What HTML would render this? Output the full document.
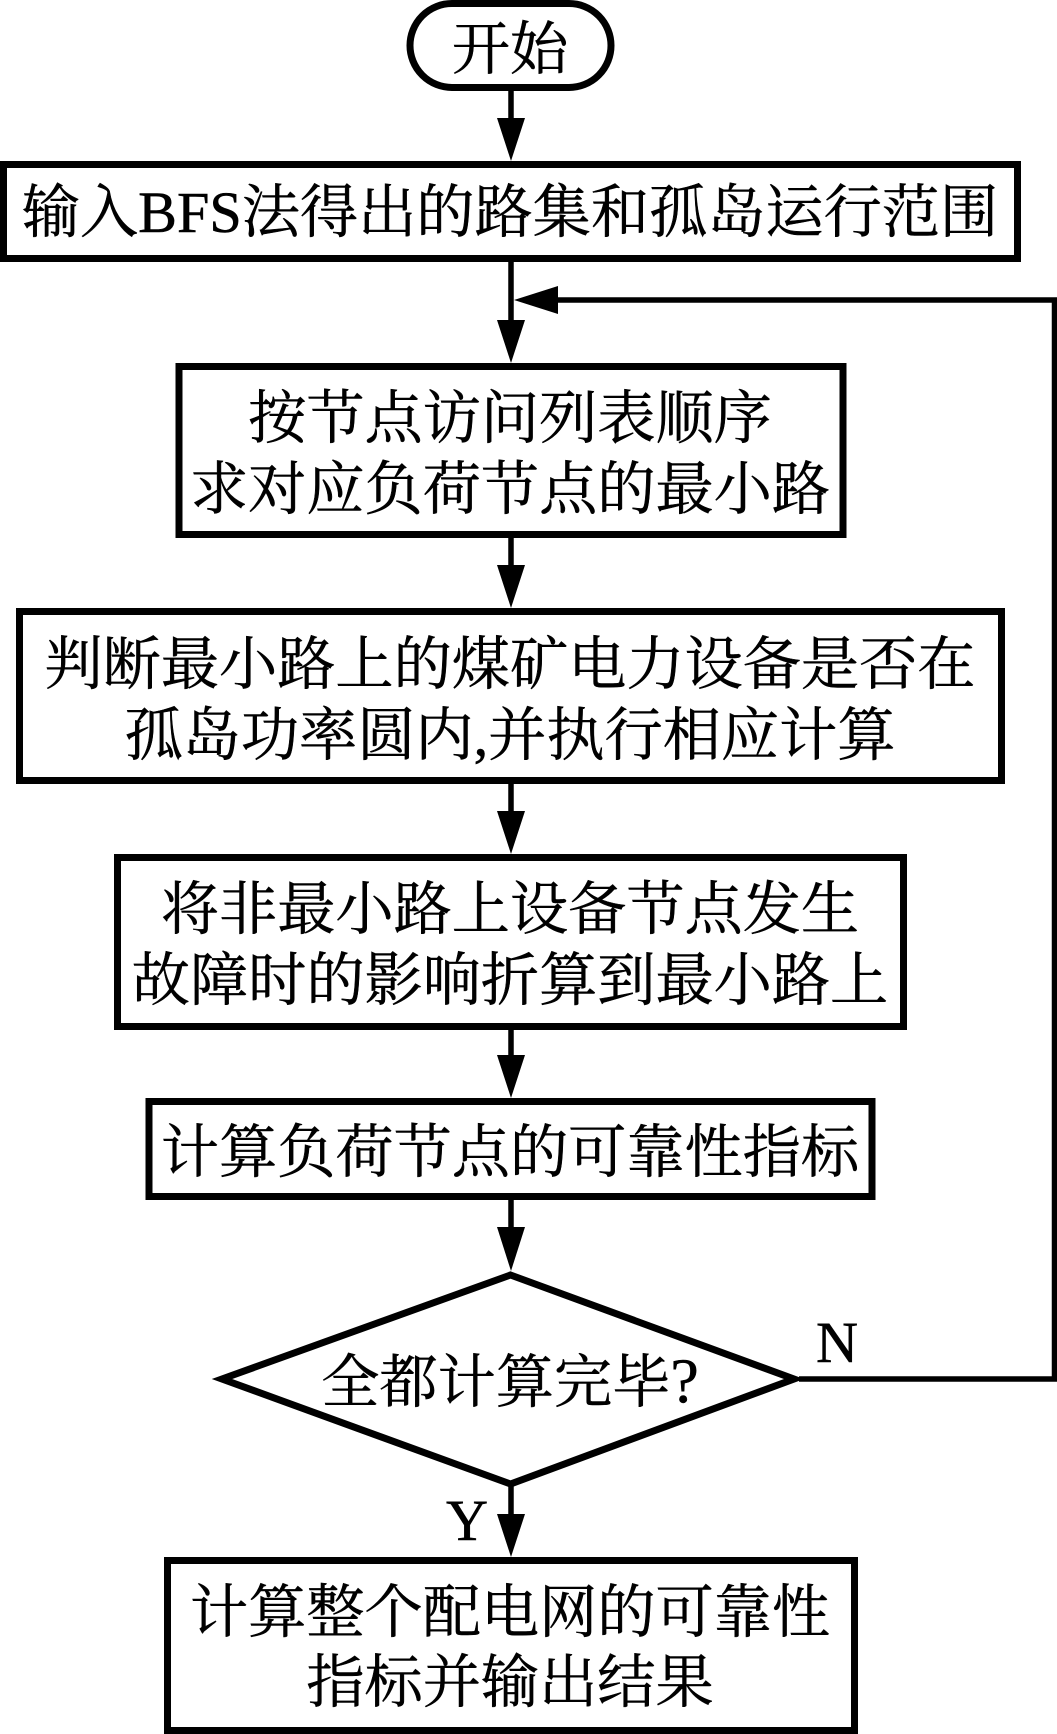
<!DOCTYPE html>
<html lang="zh">
<head>
<meta charset="utf-8">
<style>
html,body{margin:0;padding:0;background:#fff;width:1057px;height:1734px;overflow:hidden}
svg{display:block}
text{font-family:"Liberation Serif","Noto Serif CJK SC",serif;font-size:58.2px;fill:#000;stroke:#000;stroke-width:.5px;text-anchor:middle}
.b{fill:#fff;stroke:#000;stroke-width:7}
.l{fill:none;stroke:#000;stroke-width:5.5}
</style>
</head>
<body>
<svg width="1057" height="1734" viewBox="0 0 1057 1734" xmlns="http://www.w3.org/2000/svg">
<!-- connectors -->
<path class="l" d="M511 90V130M511 261V330M511 538V575M511 784V820M511 1030V1065M511 1200V1240M511 1486V1525"/>
<path class="l" d="M799 1379H1054.5V300H550"/>
<g fill="#000">
<polygon points="497,118 525,118 511,161"/>
<polygon points="497,320 525,320 511,363"/>
<polygon points="497,565 525,565 511,608"/>
<polygon points="497,811 525,811 511,854"/>
<polygon points="497,1055 525,1055 511,1098"/>
<polygon points="497,1227 525,1227 511,1271"/>
<polygon points="497,1514 525,1514 511,1557"/>
<polygon points="514,300 558,286 558,314"/>
</g>
<!-- nodes -->
<rect class="b" x="410" y="3.5" width="201" height="84" rx="42" ry="42"/>
<rect class="b" x="3.5" y="164.5" width="1014" height="94"/>
<rect class="b" x="179" y="366.5" width="664" height="168"/>
<rect class="b" x="19.5" y="611.5" width="982" height="169"/>
<rect class="b" x="117.5" y="857.5" width="786" height="169"/>
<rect class="b" x="149" y="1101.5" width="723" height="95"/>
<polygon class="b" points="510.5,1275 794,1379 510.5,1484 222,1379"/>
<rect class="b" x="167.5" y="1560.5" width="687" height="170"/>
<!-- labels -->
<text x="510" y="69">开始</text>
<text x="510" y="232">输入BFS法得出的路集和孤岛运行范围</text>
<text x="510" y="438">按节点访问列表顺序</text>
<text x="510" y="509">求对应负荷节点的最小路</text>
<text x="510" y="684">判断最小路上的煤矿电力设备是否在</text>
<text x="510" y="755">孤岛功率圆内,并执行相应计算</text>
<text x="510" y="929">将非最小路上设备节点发生</text>
<text x="510" y="1000">故障时的影响折算到最小路上</text>
<text x="510" y="1172">计算负荷节点的可靠性指标</text>
<text x="510" y="1402">全都计算完毕<tspan font-size="64">?</tspan></text>
<text x="510" y="1632">计算整个配电网的可靠性</text>
<text x="510" y="1702">指标并输出结果</text>
<text x="837" y="1362">N</text>
<text x="467" y="1540">Y</text>
</svg>
</body>
</html>
